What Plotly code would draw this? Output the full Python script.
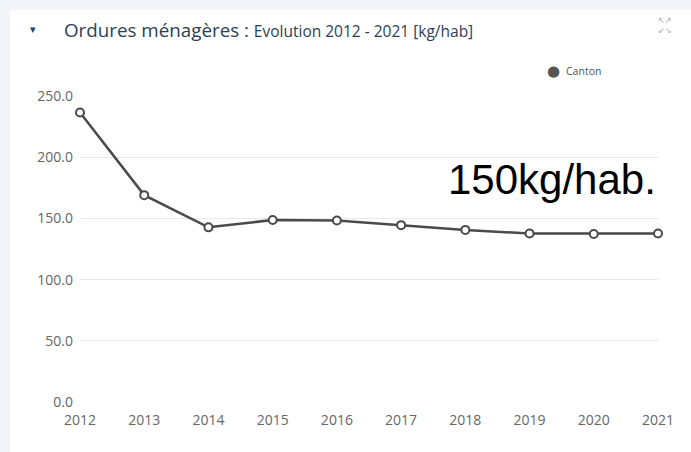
import plotly.graph_objects as go

years = [2012, 2013, 2014, 2015, 2016, 2017, 2018, 2019, 2020, 2021]
canton = [236.5, 169.0, 142.7, 148.7, 148.3, 144.5, 140.6, 137.6, 137.3, 137.6]
y_ticks = [0, 50, 100, 150, 200, 250]

fig = go.Figure()

fig.add_trace(go.Scatter(
    x=years, y=canton,
    mode='lines+markers',
    name='Canton',
    showlegend=False,
    cliponaxis=False,
    line=dict(color='#4a4a4a', width=2.5),
    marker=dict(size=8, color='white', line=dict(color='#4a4a4a', width=2)),
    hoverinfo='x+y'
))

# page background strips (left and top)
fig.add_shape(type='rect', xref='paper', yref='paper',
              x0=-0.14, x1=-0.1211, y0=-0.2, y1=1.32,
              fillcolor='#f1f5fa', line_width=0, layer='below')
fig.add_shape(type='rect', xref='paper', yref='paper',
              x0=-0.14, x1=1.06, y0=1.281, y1=1.32,
              fillcolor='#f1f5fa', line_width=0, layer='below')

# title
fig.add_annotation(
    xref='paper', yref='paper', x=-0.0813, y=1.2157,
    xanchor='center', yanchor='middle', showarrow=False,
    text='\u25BE', font=dict(family='DejaVu Sans', size=11, color='#2c3e57')
)
fig.add_annotation(
    xref='paper', yref='paper', x=-0.0311, y=1.2157,
    xanchor='left', yanchor='middle', showarrow=False,
    text="<span style='font-size:18.8px'>Ordures ménagères : </span>"
         "<span style='font-size:15.5px'>Evolution 2012 - 2021 [kg/hab]</span>",
    font=dict(family='Open Sans', color='#2c3e57')
)

# expand icon
fig.add_annotation(
    xref='paper', yref='paper', x=(664 - 80) / 578, y=(402 - 26) / 306,
    xanchor='center', yanchor='middle', showarrow=False,
    text='\u2196\u2197<br>\u2199\u2198',
    font=dict(family='DejaVu Sans', size=8, color='#a0a8b2')
)

# legend (dot + label)
fig.add_annotation(
    xref='paper', yref='paper', x=(553 - 80) / 578, y=(402 - 71) / 306,
    xanchor='center', yanchor='middle', showarrow=False,
    text='\u25CF', font=dict(family='DejaVu Sans', size=15, color='#555555')
)
fig.add_annotation(
    xref='paper', yref='paper', x=(564 - 80) / 578, y=(402 - 71) / 306,
    xanchor='left', yanchor='middle', showarrow=False,
    text='Canton', font=dict(family='Open Sans', size=10.5, color='#555555')
)

# big label
fig.add_annotation(
    xref='paper', yref='y', x=1.0, y=181.5,
    xanchor='right', yanchor='middle', showarrow=False,
    text='150kg/hab.',
    font=dict(family='Liberation Sans', size=42, color='black')
)

fig.update_layout(
    width=691, height=452,
    margin=dict(l=80, r=33, t=96, b=50),
    paper_bgcolor='white',
    plot_bgcolor='white',
    font=dict(family='Open Sans', size=14, color='#666666'),
    showlegend=False,
    xaxis=dict(
        range=[2012, 2021],
        tickvals=years,
        ticktext=[str(y) for y in years],
        showgrid=False, zeroline=False, showline=False,
        ticks='', fixedrange=True,
        ticklabelstandoff=8
    ),
    yaxis=dict(
        range=[0, 250],
        tickvals=y_ticks,
        ticktext=[f'{v:.1f}' for v in y_ticks],
        showgrid=True, gridcolor='#e8e8e8', gridwidth=1,
        zeroline=False, showline=False, ticks='',
        ticklabelstandoff=6
    )
)

fig.write_html("out.html", config={'displayModeBar': False},
               post_script="document.body.style.margin='0';")
